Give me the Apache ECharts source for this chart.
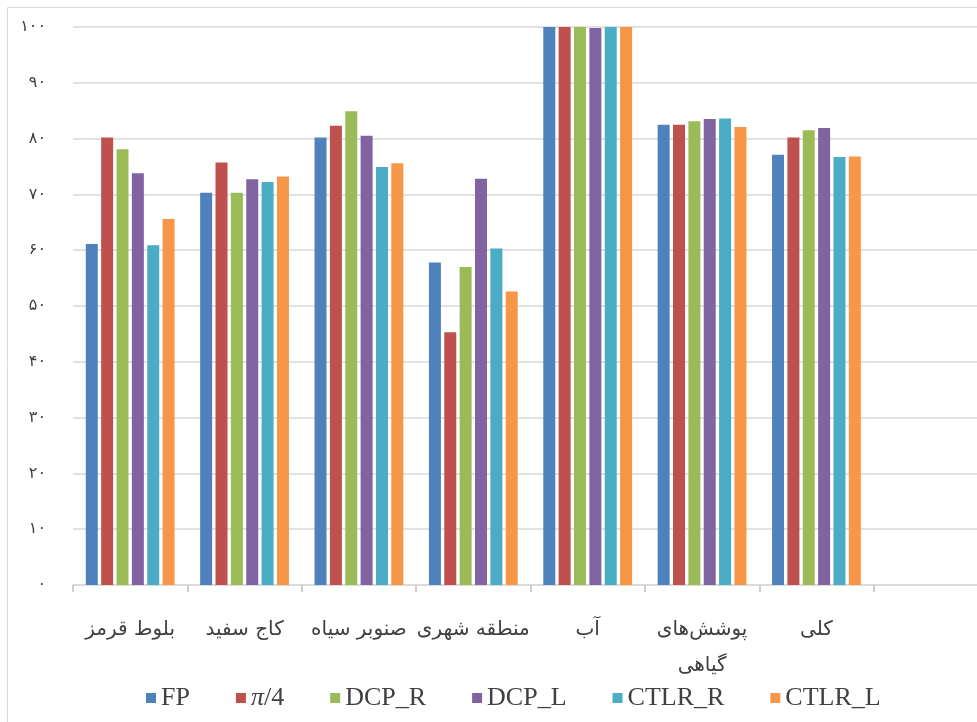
<!DOCTYPE html>
<html>
<head>
<meta charset="utf-8">
<script src="https://cdn.jsdelivr.net/npm/echarts@6/dist/echarts.min.js"></script>
<style>
  html, body { margin: 0; padding: 0; background: #fff; }
  #chart { width: 977px; height: 722px; }
</style>
</head>
<body>
<div id="chart"></div>
<script>
// categories (last one empty, as in the original sheet)
var categories = ['بلوط قرمز', 'کاج سفید', 'صنوبر سیاه', 'منطقه شهری', 'آب', 'پوشش‌های\nگیاهی', 'کلی', ''];

var seriesNames = ['FP', 'π/4', 'DCP_R', 'DCP_L', 'CTLR_R', 'CTLR_L'];
var colors = ['#4F81BD', '#C0504D', '#9BBB59', '#8064A2', '#4BACC6', '#F79646'];

var fpData    = [61.1, 70.3, 80.2, 57.8, 100, 82.5, 77.1, null];
var pi4Data   = [80.2, 75.7, 82.3, 45.3, 100, 82.5, 80.2, null];
var dcpRData  = [78.1, 70.3, 84.9, 57.0, 100, 83.1, 81.5, null];
var dcpLData  = [73.8, 72.7, 80.5, 72.8, 99.8, 83.5, 81.9, null];
var ctlrRData = [60.9, 72.2, 74.9, 60.3, 100, 83.6, 76.7, null];
var ctlrLData = [65.6, 73.2, 75.6, 52.6, 100, 82.1, 76.8, null];

var allData = [fpData, pi4Data, dcpRData, dcpLData, ctlrRData, ctlrLData];

function toPersian(n) {
    var d = '۰۱۲۳۴۵۶۷۸۹';
    return String(n).replace(/[0-9]/g, function (c) { return d[+c]; });
}

var myChart = echarts.init(document.getElementById('chart'));

var series = [];
for (var i = 0; i < seriesNames.length; i++) {
    series.push({
        name: seriesNames[i],
        type: 'bar',
        data: allData[i],
        barWidth: 12,
        barGap: '28%',
        itemStyle: { color: colors[i] }
    });
}

var option = {
    animation: false,
    color: colors,
    graphic: [{
        type: 'rect',
        shape: { x: 7.5, y: 7.5, width: 1100, height: 1000 },
        style: { fill: 'none', stroke: '#d9d9d9', lineWidth: 1 },
        silent: true
    }],
    // plot runs past the right edge of the picture (8th empty category is cut off)
    grid: { left: 73, width: 915, top: 27, bottom: 137, outerBoundsMode: 'none', containLabel: false },
    legend: {
        bottom: 6,
        left: 141,
        itemWidth: 10,
        itemHeight: 10,
        itemGap: 46,
        icon: 'rect',
        textStyle: {
            fontFamily: 'Liberation Serif',
            fontSize: 26,
            color: '#404040',
            rich: {
                i: { fontFamily: 'Liberation Serif', fontStyle: 'italic', fontSize: 26, color: '#404040' },
                n: { fontFamily: 'Liberation Serif', fontSize: 26, color: '#404040' }
            }
        },
        formatter: function (name) {
            if (name === 'π/4') return '{i|π}{n|/4}';
            return name;
        },
        data: seriesNames
    },
    xAxis: {
        type: 'category',
        data: categories,
        axisLine: { show: true, lineStyle: { color: '#d9d9d9', width: 1.5 } },
        axisTick: { show: true, interval: 0, length: 7, lineStyle: { color: '#c0c0c0', width: 1.5 } },
        axisLabel: {
            interval: 0,
            margin: 27,
            fontFamily: 'DejaVu Sans',
            fontSize: 20,
            lineHeight: 36,
            color: '#404040'
        }
    },
    yAxis: {
        type: 'value',
        min: 0,
        max: 100,
        interval: 10,
        axisLine: { show: false },
        axisTick: { show: false },
        splitLine: { lineStyle: { color: '#d9d9d9', width: 1.5 } },
        axisLabel: {
            margin: 27,
            fontFamily: 'DejaVu Sans',
            fontSize: 16,
            color: '#404040',
            formatter: function (v) { return toPersian(v); }
        }
    },
    series: series
};

myChart.setOption(option);
</script>
</body>
</html>
